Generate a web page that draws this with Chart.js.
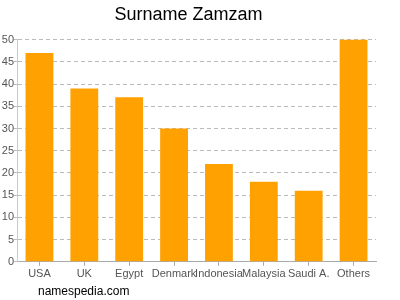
<!DOCTYPE html>
<html>
<head>
<meta charset="utf-8">
<script src="https://cdn.jsdelivr.net/npm/chart.js@4"></script>
<style>
  body { margin: 0; background: #fff; }
  #wrap { position: relative; width: 400px; height: 300px; }
  #foot { position: absolute; left: 38px; top: 284px; font: 12px "Liberation Sans", Arial, sans-serif; color: #000; }
</style>
</head>
<body>
<div id="wrap">
  <canvas id="chart" width="400" height="300"></canvas>
  <div id="foot">namespedia.com</div>
</div>
<script>
const countries = ['USA', 'UK', 'Egypt', 'Denmark', 'Indonesia', 'Malaysia', 'Saudi A.', 'Others'];
const counts = [47, 39, 37, 30, 22, 18, 16, 50];
const yMax = 50;
const yStep = 5;

const font = 'Liberation Sans';

new Chart(document.getElementById('chart'), {
  type: 'bar',
  data: {
    labels: countries,
    datasets: [{
      data: counts,
      backgroundColor: '#ffa100',
      barPercentage: 0.62,
      categoryPercentage: 1,
    }],
  },
  options: {
    responsive: false,
    animation: false,
    layout: { padding: { left: 1, right: 24, bottom: 17, top: 0 } },
    plugins: {
      legend: { display: false },
      tooltip: { enabled: false },
      title: {
        display: true,
        text: 'Surname Zamzam',
        color: '#000',
        font: { family: font, size: 18, weight: 'normal' },
        padding: { top: 4, bottom: 14 },
      },
    },
    scales: {
      x: {
        grid: { drawOnChartArea: false, offset: false, color: '#aaa', tickLength: 4 },
        border: { color: '#aaa' },
        ticks: { color: '#555', font: { family: font, size: 11 }, padding: 2, maxRotation: 0, autoSkip: false },
      },
      y: {
        min: 0,
        max: yMax,
        afterFit: s => { s.width = 16; },
        ticks: { stepSize: yStep, color: '#555', font: { family: font, size: 11 }, padding: 0 },
        grid: { color: '#bbb', tickLength: 3 },
        border: { display: true, color: '#ccc', dash: [4, 3] },
      },
    },
  },
});
</script>
</body>
</html>
